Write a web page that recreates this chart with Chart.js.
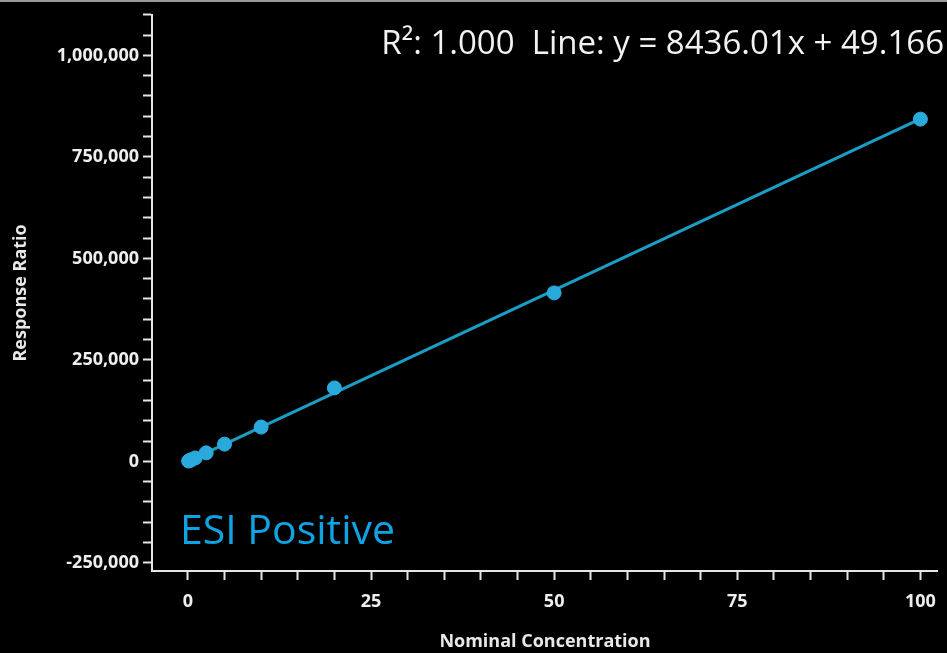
<!DOCTYPE html>
<html lang="en">
<head>
  <meta charset="UTF-8">
  <title>Calibration curve</title>
  <script src="https://cdn.jsdelivr.net/npm/chart.js"></script>
  <style>
    html, body { margin: 0; padding: 0; background: #000; }
    .frame { position: relative; width: 947px; height: 653px; background: #000; }
    .frame::before { content: ""; position: absolute; left: 0; top: 0; right: 0; height: 2px; background: #9a9a9a; }
  </style>
</head>
<body>
  <div class="frame">
    <canvas id="calChart"></canvas>
  </div>

  <script>
    // calibration standards
    const concentrations = [0.1, 0.25, 0.5, 1, 2.5, 5, 10, 20, 50, 100];
    const responses = [900, 2200, 4300, 8500, 21000, 42500, 84500, 181000, 415000, 843000];

    // fitted line, as reported in the header
    const slope = 8436.01;
    const intercept = 49.166;
    const rSquared = "1.000";
    const fitRange = [0, 100];

    // axis ticks
    const xMajor = [0, 25, 50, 75, 100];
    const xMinorStep = 5;
    const yMajor = [-250000, 0, 250000, 500000, 750000, 1000000];
    const yMinorStep = 50000;

    const caption = "ESI Positive";

    const axisColor = "#e6e6e6";
    const labelFont = { family: "'Open Sans', sans-serif", size: 18, weight: "bold" };

    const fitPoints = fitRange.map(x => ({ x: x, y: slope * x + intercept }));
    const standards = concentrations.map((x, i) => ({ x: x, y: responses[i] }));

    // every minor step along an axis, so the major ticks sit in between them
    const stepTicks = (min, max, step) => {
      const out = [];
      for (let v = Math.ceil(min / step) * step; v <= max; v += step) out.push({ value: v });
      return out;
    };

    const textPlugin = {
      id: "headerText",
      afterDraw(chart) {
        const ctx = chart.ctx;
        ctx.save();
        ctx.fillStyle = "#f2f2f2";
        ctx.font = "33px 'Open Sans', sans-serif";
        ctx.textAlign = "right";
        ctx.textBaseline = "alphabetic";
        ctx.fillText(`R\u00B2: ${rSquared}  Line: y = ${slope}x + ${intercept}`, 944, 54);

        ctx.fillStyle = "#0ea3e2";
        ctx.font = "41px 'Open Sans', sans-serif";
        ctx.textAlign = "left";
        ctx.fillText(caption, 180, 544);
        ctx.restore();
      }
    };

    new Chart(document.getElementById("calChart"), {
      type: "scatter",
      data: {
        datasets: [
          {
            type: "line",
            label: "Fit",
            data: fitPoints,
            borderColor: "#1a9ec4",
            borderWidth: 3,
            pointRadius: 0,
            fill: false,
            order: 2
          },
          {
            label: "Standards",
            data: standards,
            backgroundColor: "#2aaadc",
            borderColor: "#2aaadc",
            pointRadius: 7,
            pointHoverRadius: 7,
            order: 1
          }
        ]
      },
      options: {
        responsive: true,
        maintainAspectRatio: false,
        animation: false,
        layout: { padding: { top: 11, right: 7, left: 0, bottom: 0 } },
        plugins: {
          legend: { display: false },
          tooltip: { enabled: false }
        },
        scales: {
          x: {
            type: "linear",
            min: -4.9,
            max: 102.4,
            afterBuildTicks: (s) => { s.ticks = stepTicks(s.min, s.max, xMinorStep); },
            afterFit: (s) => { s.height = 82; },
            border: { display: true, color: axisColor, width: 2 },
            grid: {
              drawOnChartArea: false,
              drawTicks: true,
              tickLength: 9,
              tickColor: axisColor,
              tickWidth: 2
            },
            ticks: {
              autoSkip: false,
              maxRotation: 0,
              color: "#eeeeee",
              font: labelFont,
              padding: 11,
              callback: (v) => xMajor.includes(v) ? v : ""
            },
            title: {
              display: true,
              text: "Nominal Concentration",
              color: "#e8e8e8",
              font: { family: "'Open Sans', sans-serif", size: 18, weight: "bold" },
              padding: { top: 0, bottom: 0 }
            }
          },
          y: {
            type: "linear",
            min: -270000,
            max: 1100000,
            afterBuildTicks: (s) => { s.ticks = stepTicks(s.min, s.max, yMinorStep); },
            afterFit: (s) => { s.width = 152; },
            border: { display: true, color: axisColor, width: 2 },
            grid: {
              drawOnChartArea: false,
              drawTicks: true,
              tickLength: 9,
              tickColor: axisColor,
              tickWidth: 2
            },
            ticks: {
              autoSkip: false,
              color: "#eeeeee",
              font: labelFont,
              padding: 4,
              callback: (v) => yMajor.includes(v) ? v.toLocaleString("en-US") : ""
            },
            title: {
              display: true,
              text: "Response Ratio",
              color: "#e8e8e8",
              font: { family: "'Open Sans', sans-serif", size: 18, weight: "bold" },
              padding: { top: 10, bottom: 0 }
            }
          }
        }
      },
      plugins: [textPlugin]
    });
  </script>
</body>
</html>
